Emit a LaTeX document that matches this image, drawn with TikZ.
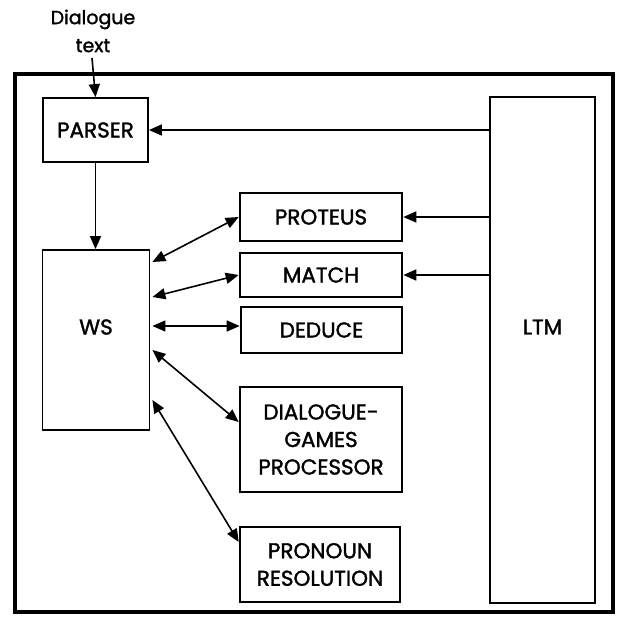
\documentclass[tikz,border=0pt]{standalone}
\usepackage{fontspec}
\setmainfont{Poppins}[FakeBold=1.5]
\usetikzlibrary{arrows.meta}
\tikzset{
  box/.style={draw, line width=2.6pt, inner sep=0pt, align=center,
    font=\fontsize{21.5}{27.5}\selectfont},
  thinbox/.style={box, line width=1.8pt},
  arr/.style={line width=1.6pt, -{Triangle[length=13pt,width=11pt]}},
  darr/.style={line width=1.6pt, {Triangle[length=13pt,width=11pt]}-{Triangle[length=13pt,width=11pt]}},
  lbl/.style={font=\fontsize{21.5}{27}\selectfont, inner sep=0pt}
}
\begin{document}
\begin{tikzpicture}[x=1pt,y=-1pt]
\useasboundingbox (0,0) rectangle (619,621);
\fill[white] (0,0) rectangle (619,621);
% outer frame
\draw[line width=3.6pt] (15,74) rectangle (613,612);
% input text
\node[font=\fontsize{19}{28}\selectfont, align=center, inner sep=0pt] (dtext) at (93,31) {Dialogue\\text};
\coordinate (inp) at (92,58);
% boxes
\node[thinbox, minimum width=105pt, minimum height=64pt] (parser) at (95.5,130) {PARSER};
\node[thinbox, minimum width=107pt, minimum height=180pt] (ws) at (96,340) {};
\node[lbl] (wslbl) at (96,327) {WS};
\node[box, minimum width=162pt, minimum height=48pt] (proteus) at (321,217) {PROTEUS};
\node[box, minimum width=162pt, minimum height=44pt] (match) at (321,275) {MATCH};
\node[box, minimum width=161pt, minimum height=46pt] (deduce) at (321.5,330) {DEDUCE};
\node[box, minimum width=162pt, minimum height=105pt] (dgp) at (321,439.5) {DIALOGUE-\\GAMES\\PROCESSOR};
\node[box, minimum width=160pt, minimum height=75pt] (pronoun) at (320,564.5) {PRONOUN\\RESOLUTION};
\node[box, minimum width=105pt, minimum height=506pt] (ltm) at (542.5,350) {};
\node[lbl] (ltmlbl) at (542.5,327) {LTM};
% connectors
\draw[arr] (inp) -- (parser.north);
\draw[arr] (parser.south) -- (parser.south |- ws.north);
\draw[arr] (ltm.west |- parser.east) -- (parser.east);
\draw[arr] (ltm.west |- proteus.east) -- (proteus.east);
\draw[arr] (ltm.west |- match.east) -- (match.east);
\draw[darr] ([yshift=78pt,xshift=2pt]ws.east) -- (proteus.west);
\draw[darr] ([yshift=43pt,xshift=2pt]ws.east) -- (match.west);
\draw[darr] ([yshift=14pt,xshift=2pt]ws.east) -- ([yshift=4pt]deduce.west);
\draw[darr] ([yshift=-10pt,xshift=2pt]ws.east) -- ([yshift=17.5pt]dgp.west);
\draw[darr] ([yshift=-60pt,xshift=2pt]ws.east) -- ([yshift=22.5pt]pronoun.west);
\end{tikzpicture}
\end{document}
